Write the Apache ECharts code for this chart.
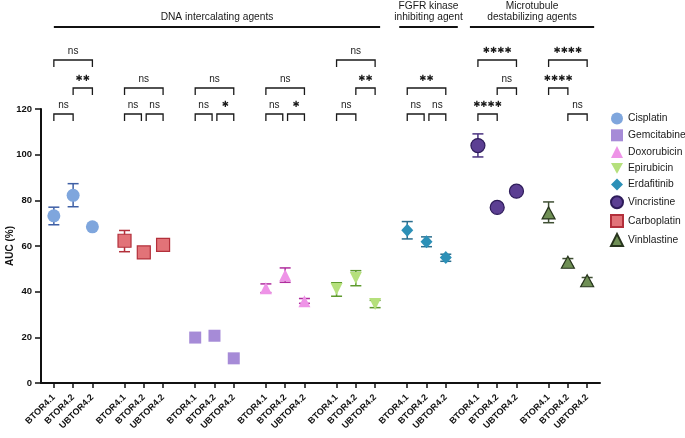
<!DOCTYPE html>
<html><head><meta charset="utf-8">
<script src="https://cdn.jsdelivr.net/npm/echarts@6/dist/echarts.min.js"></script>
<style>html,body{margin:0;padding:0;background:#fff}#c{width:685px;height:438px}</style>
</head><body><div id="c"></div><script>
const cellLines = ['BTOR4.1', 'BTOR4.2', 'UBTOR4.2'];
const drugs = ['Cisplatin', 'Carboplatin', 'Gemcitabine', 'Doxorubicin', 'Epirubicin', 'Erdafitinib', 'Vincristine', 'Vinblastine'];
const legendOrder = ['Cisplatin', 'Gemcitabine', 'Doxorubicin', 'Epirubicin', 'Erdafitinib', 'Vincristine', 'Carboplatin', 'Vinblastine'];

const cisplatin   = [73.2, 82.2, 68.4];
const carboplatin = [62.3, 57.2, 60.5];
const gemcitabine = [19.9, 20.7, 10.8];
const doxorubicin = [41.5, 47.2, 35.8];
const epirubicin  = [41.2, 46.0, 34.6];
const erdafitinib = [66.9, 61.9, 55.0];
const vincristine = [104.0, 76.9, 84.0];
const vinblastine = [74.5, 52.9, 44.8];

const cisplatinErr   = [[69.3, 77.0], [77.2, 87.3], null];
const carboplatinErr = [[57.5, 66.8], null, null];
const gemcitabineErr = [null, null, null];
const doxorubicinErr = [[39.6, 43.4], [44.1, 50.4], [34.9, 37.0]];
const epirubicinErr  = [[38.0, 43.9], [42.6, 49.2], [33.0, 36.2]];
const erdafitinibErr = [[63.1, 70.7], [59.7, 64.0], [53.3, 56.4]];
const vincristineErr = [[99.0, 109.1], null, null];
const vinblastineErr = [[70.2, 79.3], [51.2, 54.5], [43.3, 46.2]];

const headers = [
  {text: 'DNA intercalating agents', first: 0, last: 4},
  {text: 'FGFR kinase\ninhibiting agent', first: 5, last: 5},
  {text: 'Microtubule\ndestabilizing agents', first: 6, last: 7}
];
// [group, fromLine, toLine, level, label]
const comparisons = [
  [0, 0, 1, 0, 'ns'], [0, 1, 2, 1, '**'], [0, 0, 2, 2, 'ns'],
  [1, 0, 1, 0, 'ns'], [1, 1, 2, 0, 'ns'], [1, 0, 2, 1, 'ns'],
  [2, 0, 1, 0, 'ns'], [2, 1, 2, 0, '*'], [2, 0, 2, 1, 'ns'],
  [3, 0, 1, 0, 'ns'], [3, 1, 2, 0, '*'], [3, 0, 2, 1, 'ns'],
  [4, 0, 1, 0, 'ns'], [4, 1, 2, 1, '**'], [4, 0, 2, 2, 'ns'],
  [5, 0, 1, 0, 'ns'], [5, 1, 2, 0, 'ns'], [5, 0, 2, 1, '**'],
  [6, 0, 1, 0, '****'], [6, 1, 2, 1, 'ns'], [6, 0, 2, 2, '****'],
  [7, 1, 2, 0, 'ns'], [7, 0, 1, 1, '****'], [7, 0, 2, 2, '****']
];

const values = [cisplatin, carboplatin, gemcitabine, doxorubicin, epirubicin, erdafitinib, vincristine, vinblastine];
const errs = [cisplatinErr, carboplatinErr, gemcitabineErr, doxorubicinErr, epirubicinErr, erdafitinibErr, vincristineErr, vinblastineErr];

const pos = (g, j) => 2 + 11 * g + 3 * j;
const tickPositions = [];
for (let g = 0; g < drugs.length; g++) for (let j = 0; j < 3; j++) tickPositions.push(pos(g, j));

const FONT = '"Liberation Sans", Arial, Helvetica, sans-serif';
const styles = {
  Cisplatin:   {symbol: 'circle', size: 13, color: '#7FA6DD', border: null, err: '#3E5FA5'},
  Carboplatin: {symbol: 'rect', size: 13, color: '#E27378', border: '#B3303B', err: '#B3303B'},
  Gemcitabine: {symbol: 'rect', size: 12, color: '#A68BD7', border: null, err: '#7B5FB5'},
  Doxorubicin: {symbol: 'triangle', size: [12, 12], color: '#EE93E7', border: null, err: '#B02E9E'},
  Epirubicin:  {symbol: 'path://M0,0L10,0L5,9Z', size: [12, 12], color: '#B5E07C', border: null, err: '#5E9A2E'},
  Erdafitinib: {symbol: 'diamond', size: [12, 13], color: '#2C90B7', border: null, err: '#2B6E8E'},
  Vincristine: {symbol: 'circle', size: 14, color: '#5C3F93', border: '#2E1C5A', err: '#4A3380'},
  Vinblastine: {symbol: 'triangle', size: [13, 12], color: '#6F8F55', border: '#27341D', err: '#3F4F33'}
};

const errData = [];
values.forEach((arr, g) => arr.forEach((v, j) => {
  const e = errs[g][j];
  if (e) errData.push([pos(g, j), e[0], e[1], g]);
}));

const series = [];
series.push({
  type: 'custom', name: 'errors', z: 1, silent: true,
  encode: {x: 0, y: [1, 2]},
  data: errData,
  renderItem: function (params, api) {
    const x = api.value(0), lo = api.value(1), hi = api.value(2), g = api.value(3);
    const p1 = api.coord([x, lo]), p2 = api.coord([x, hi]);
    const c = styles[drugs[g]].err, hw = 5.5;
    const st = {stroke: c, lineWidth: 1.5};
    return {type: 'group', children: [
      {type: 'line', shape: {x1: p1[0], y1: p1[1], x2: p2[0], y2: p2[1]}, style: st},
      {type: 'line', shape: {x1: p1[0] - hw, y1: p1[1], x2: p1[0] + hw, y2: p1[1]}, style: st},
      {type: 'line', shape: {x1: p2[0] - hw, y1: p2[1], x2: p2[0] + hw, y2: p2[1]}, style: st}
    ]};
  }
});

drugs.forEach((d, g) => {
  const s = styles[d];
  series.push({
    type: 'scatter', name: d, z: 3,
    symbol: s.symbol, symbolSize: s.size,
    itemStyle: {color: s.color, borderColor: s.border || s.color, borderWidth: s.border ? 1.2 : 0, opacity: 1},
    data: values[g].map((v, j) => [pos(g, j), v])
  });
});

// significance brackets
const levelOffset = [5, -21, -49];
series.push({
  type: 'custom', name: 'brackets', z: 4, silent: true, clip: false,
  encode: {x: 0, y: 1},
  data: comparisons.map(c => [pos(c[0], c[1]), 120]),
  renderItem: function (params, api) {
    const c = comparisons[params.dataIndex];
    const top = api.coord([0, 120])[1] + levelOffset[c[3]];
    let xa = api.coord([pos(c[0], c[1]), 120])[0];
    let xb = api.coord([pos(c[0], c[2]), 120])[0];
    if (c[2] - c[1] === 1) {
      const hasRight = comparisons.some(o => o[0] === c[0] && o[3] === c[3] && o[1] === c[2]);
      const hasLeft = comparisons.some(o => o[0] === c[0] && o[3] === c[3] && o[2] === c[1]);
      if (hasRight) xb -= 2.4;
      if (hasLeft) xa += 2.4;
    }
    const st = {stroke: '#1a1a1a', lineWidth: 1.3, fill: null};
    const isStar = c[4].indexOf('*') >= 0;
    const label = isStar ? c[4].replace(/\*/g, '\u2731') : c[4];
    return {type: 'group', children: [
      {type: 'polyline', shape: {points: [[xa, top + 7], [xa, top], [xb, top], [xb, top + 7]]}, style: st},
      {type: 'text', x: (xa + xb) / 2, y: top - 9,
        style: {text: label, fill: '#1a1a1a', align: 'center', verticalAlign: 'middle',
          font: isStar ? '8.6px "DejaVu Sans"' : '10px ' + FONT}}
    ]};
  }
});

// header lines
series.push({
  type: 'custom', name: 'headers', z: 4, silent: true, clip: false,
  encode: {x: 0, y: 1},
  data: headers.map(h => [pos(h.first, 0), 120]),
  renderItem: function (params, api) {
    const h = headers[params.dataIndex];
    const pad = [[0, 5], [8, 12], [8, 7]][params.dataIndex];
    const xa = api.coord([pos(h.first, 0), 120])[0] - pad[0];
    const xb = api.coord([pos(h.last, 2), 120])[0] + pad[1];
    const ly = 27;
    return {type: 'group', children: [
      {type: 'line', shape: {x1: xa, y1: ly, x2: xb, y2: ly}, style: {stroke: '#111', lineWidth: 2}},
      {type: 'text', x: (xa + xb) / 2, y: ly - 4,
        style: {text: h.text, fill: '#1a1a1a', align: 'center', verticalAlign: 'bottom',
          font: '10.2px ' + FONT, lineHeight: 11}}
    ]};
  }
});

const chart = echarts.init(document.getElementById('c'), null, {renderer: 'canvas'});
chart.setOption({
  animation: false,
  backgroundColor: '#fff',
  textStyle: {fontFamily: FONT},
  grid: {left: 41, right: 85, top: 109, bottom: 55, containLabel: false, outerBoundsMode: 'none'},
  legend: {
    data: legendOrder, orient: 'vertical', left: 605, top: 107.5,
    itemWidth: 12, itemHeight: 12, itemGap: 4.8,
    textStyle: {fontSize: 10.3, color: '#1a1a1a', fontFamily: FONT}
  },
  xAxis: {
    type: 'value', min: 0, max: 87,
    splitLine: {show: false},
    axisLine: {lineStyle: {color: '#111', width: 2}},
    axisTick: {customValues: tickPositions, length: 5, lineStyle: {color: '#111', width: 1.5}},
    axisLabel: {
      customValues: tickPositions, rotate: 45, fontWeight: 'bold', fontSize: 9, color: '#111', margin: 13,
      formatter: v => cellLines[Math.round(((v - 2) % 11) / 3)]
    }
  },
  yAxis: {
    type: 'value', min: 0, max: 120, interval: 20,
    name: 'AUC (%)', nameLocation: 'middle', nameGap: 26, nameRotate: 90, nameMoveOverlap: false,
    nameTextStyle: {fontWeight: 'bold', fontSize: 10, color: '#111'},
    splitLine: {show: false},
    axisLine: {show: true, lineStyle: {color: '#111', width: 2}},
    axisTick: {show: true, length: 6, lineStyle: {color: '#111', width: 1.5}},
    axisLabel: {fontWeight: 'bold', fontSize: 9.5, color: '#111', margin: 9}
  },
  series: series
});
</script></body></html>
